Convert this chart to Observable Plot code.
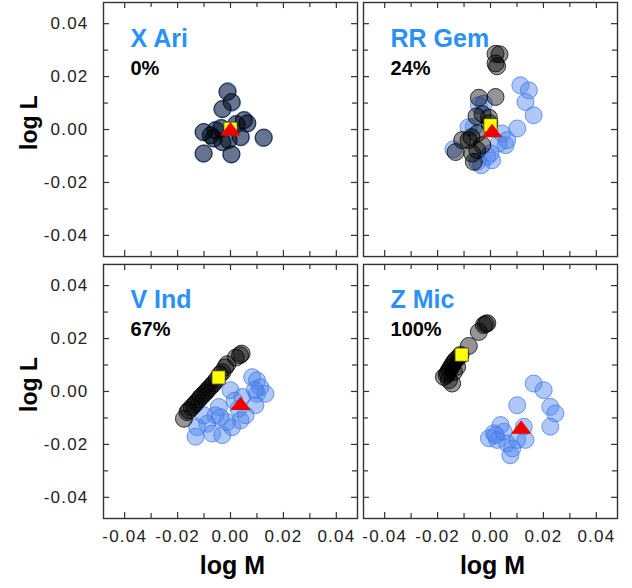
<!DOCTYPE html>
<html><head><meta charset="utf-8">
<script src="https://cdn.jsdelivr.net/npm/d3@7"></script>
<script src="https://cdn.jsdelivr.net/npm/@observablehq/plot@0.6"></script>
<style>
html,body{margin:0;padding:0;background:#fff;}
g[aria-label="x-axis tick label"], g[aria-label="y-axis tick label"]{letter-spacing:1.2px;}
</style></head><body><div id="chart"></div>
<script>
// ---- categories / labels ----
const panelNames = ["X Ari", "RR Gem", "V Ind", "Z Mic"];
const percents = ["0%", "24%", "67%", "100%"];
const panelCol = ["L", "R", "L", "R"];
const panelRow = ["T", "T", "B", "B"];
const colKeys = ["L", "R"];
const rowKeys = ["T", "B"];
const xLabel = "log M";
const yLabel = "log L";
const majorTicks = [-0.04, -0.02, 0, 0.02, 0.04];
const minorTicks = [-0.03, -0.01, 0.01, 0.03];

// ---- X Ari ----
const xAriBlackM = [-0.0012, 0.0004, -0.0031, 0.0050, 0.0064, -0.0101, -0.0075, -0.0057, -0.0034, 0.0038, 0.0126, -0.0101, 0.0004, -0.0008, -0.0064, -0.0030, 0.0023];
const xAriBlackL = [0.0142, 0.0104, 0.0077, 0.0035, 0.0024, -0.0009, -0.0022, -0.0003, 0.0005, -0.0028, -0.0030, -0.0090, -0.0093, -0.0040, -0.0033, -0.0048, 0.0020];
const xAriBlueM = [-0.0010, 0.0006, -0.0028, 0.0053, 0.0062, -0.0103, -0.0072, -0.0055, -0.0036, 0.0040, 0.0124, -0.0103, 0.0002, -0.0006, -0.0062, -0.0033, 0.0020];
const xAriBlueL = [0.0146, 0.0101, 0.0079, 0.0037, 0.0021, -0.0011, -0.0020, -0.0001, 0.0007, -0.0030, -0.0033, -0.0092, -0.0095, -0.0038, -0.0035, -0.0046, 0.0022];

// ---- RR Gem ----
const rrGemBlackM = [0.0019, 0.0034, 0.0025, 0.0019, -0.0044, 0.0019, -0.0053, -0.0030, -0.0006, -0.0004, -0.0050, -0.0072, -0.0107, -0.0083, -0.0031, -0.0132, -0.0069, -0.0050, -0.0063];
const rrGemBlackL = [0.0286, 0.0284, 0.0239, 0.0250, 0.0120, 0.0123, 0.0050, 0.0058, 0.0045, 0.0024, -0.0015, -0.0029, -0.0040, -0.0040, -0.0059, -0.0085, -0.0091, -0.0078, -0.0122];
const rrGemBlueM = [0.0113, 0.0145, 0.0132, 0.0163, 0.0101, 0.0057, 0.0031, 0.0044, -0.0044, -0.0063, -0.0012, 0.0006, -0.0035, 0.0000, -0.0050, -0.0083, -0.0140, 0.0063, -0.0025];
const rrGemBlueL = [0.0167, 0.0148, 0.0104, 0.0054, 0.0004, -0.0059, -0.0053, -0.0015, 0.0092, 0.0010, -0.0103, -0.0116, -0.0135, -0.0090, -0.0122, 0.0009, -0.0075, -0.0040, 0.0098];

// ---- V Ind ----
const vIndBlackM = [0.0042, 0.0036, 0.0020, -0.0012, -0.0020, -0.0031, -0.0040, -0.0052, -0.0063, -0.0070, -0.0080, -0.0088, -0.0095, -0.0104, -0.0113, -0.0120, -0.0130, -0.0138, -0.0146, -0.0157, -0.0163, -0.0176];
const vIndBlackL = [0.0143, 0.0137, 0.0128, 0.0103, 0.0091, 0.0073, 0.0064, 0.0046, 0.0031, 0.0023, 0.0013, 0.0004, -0.0004, -0.0013, -0.0021, -0.0031, -0.0042, -0.0051, -0.0060, -0.0071, -0.0078, -0.0103];
const vIndBlueM = [0.0082, 0.0100, 0.0113, 0.0100, 0.0132, 0.0094, 0.0000, 0.0044, -0.0044, -0.0057, -0.0088, -0.0126, -0.0132, -0.0069, -0.0031, 0.0006, 0.0038, 0.0057, 0.0031, -0.0013, -0.0101, -0.0038, 0.0092, 0.0015];
const vIndBlueL = [0.0054, 0.0042, 0.0016, -0.0009, -0.0009, -0.0052, 0.0005, -0.0021, -0.0059, -0.0090, -0.0122, -0.0135, -0.0171, -0.0159, -0.0165, -0.0135, -0.0109, -0.0090, -0.0065, -0.0116, -0.0090, -0.0097, 0.0006, -0.0035];

// ---- Z Mic ----
const zMicBlackM = [-0.0012, -0.0018, -0.0025, -0.0044, -0.0082, -0.0113, -0.0122, -0.0132, -0.0140, -0.0145, -0.0151, -0.0157, -0.0162, -0.0166, -0.0176, -0.0157, -0.0145, -0.0138, -0.0126];
const zMicBlackL = [0.0258, 0.0255, 0.0251, 0.0225, 0.0172, 0.0138, 0.0128, 0.0119, 0.0108, 0.0099, 0.0090, 0.0080, 0.0070, 0.0062, 0.0055, 0.0043, 0.0030, 0.0074, 0.0093];
const zMicBlueM = [0.0163, 0.0201, 0.0101, 0.0226, 0.0245, 0.0226, 0.0126, 0.0012, 0.0025, 0.0063, 0.0101, 0.0132, 0.0082, 0.0075, 0.0050, -0.0006, 0.0038, 0.0020];
const zMicBlueL = [0.0030, 0.0005, -0.0052, -0.0058, -0.0083, -0.0133, -0.0133, -0.0158, -0.0183, -0.0196, -0.0183, -0.0183, -0.0215, -0.0241, -0.0152, -0.0177, -0.0127, -0.0165];

// ---- summary markers (one per panel) ----
const squareM = [0.0000, 0.0000, -0.0045, -0.0109];
const squareL = [0.0003, 0.0016, 0.0053, 0.0139];
const triangleM = [0.0000, 0.0006, 0.0038, 0.0116];
const triangleL = [0.0003, -0.0004, -0.0045, -0.0134];

// ---- build tables ----
const blackSets = [[xAriBlackM, xAriBlackL], [rrGemBlackM, rrGemBlackL], [vIndBlackM, vIndBlackL], [zMicBlackM, zMicBlackL]];
const blueSets = [[xAriBlueM, xAriBlueL], [rrGemBlueM, rrGemBlueL], [vIndBlueM, vIndBlueL], [zMicBlueM, zMicBlueL]];
const toRows = sets => sets.flatMap(([ms, ls], p) => ms.map((m, i) => ({m, l: ls[i], col: panelCol[p], row: panelRow[p]})));
const blackRows = toRows(blackSets);
const blueRows = toRows(blueSets);
const panelRows = panelNames.map((name, p) => ({
  name, pct: percents[p], col: panelCol[p], row: panelRow[p],
  sm: squareM[p], sl: squareL[p], tm: triangleM[p], tl: triangleL[p]
}));

const fmt = d => d.toFixed(2);
const flatTriangle = {
  draw(ctx, size) {
    const r = Math.sqrt(size / Math.PI);
    const w = r * 1.46, h = r * 0.96;
    ctx.moveTo(0, -h); ctx.lineTo(w, h); ctx.lineTo(-w, h); ctx.closePath();
  }
};
const titleBlue = "#2a92f7";
const tickColor = "#333";

const chart = Plot.plot({
  width: 632, height: 588,
  marginLeft: 103, marginRight: 15, marginTop: 2, marginBottom: 70,
  style: {fontFamily: "'Liberation Sans', Arial, Helvetica, sans-serif", fontSize: "16px", color: "#222", background: "#fff"},
  fx: {domain: colKeys, paddingInner: 0.0231, paddingOuter: 0, round: false, axis: null, label: null},
  fy: {domain: rowKeys, paddingInner: 0.03, paddingOuter: 0, round: false, axis: null, label: null},
  x: {domain: [-0.048, 0.048], nice: false, label: null},
  y: {domain: [-0.048, 0.048], nice: false, label: null},
  marks: [
    Plot.frame({stroke: tickColor, strokeWidth: 1.4}),
    // inward ticks on all four sides of every panel
    Plot.tickX(majorTicks, {x: d => d, insetTop: 248, stroke: tickColor, strokeWidth: 1.2}),
    Plot.tickX(majorTicks, {x: d => d, insetBottom: 248, stroke: tickColor, strokeWidth: 1.2}),
    Plot.tickX(minorTicks, {x: d => d, insetTop: 249, stroke: tickColor, strokeWidth: 1.2}),
    Plot.tickX(minorTicks, {x: d => d, insetBottom: 249, stroke: tickColor, strokeWidth: 1.2}),
    Plot.tickY(majorTicks, {y: d => d, insetRight: 248, stroke: tickColor, strokeWidth: 1.2}),
    Plot.tickY(majorTicks, {y: d => d, insetLeft: 248, stroke: tickColor, strokeWidth: 1.2}),
    Plot.tickY(minorTicks, {y: d => d, insetRight: 249, stroke: tickColor, strokeWidth: 1.2}),
    Plot.tickY(minorTicks, {y: d => d, insetLeft: 249, stroke: tickColor, strokeWidth: 1.2}),
    Plot.axisX({ticks: majorTicks, tickFormat: fmt, tickSize: 0, tickPadding: 11, anchor: "bottom", facetAnchor: "bottom", label: null, fontSize: 17, fill: "#222"}),
    Plot.axisY({ticks: majorTicks, tickFormat: fmt, tickSize: 0, tickPadding: 15, anchor: "left", facetAnchor: "left", label: null, fontSize: 17, fill: "#222"}),
    // points
    Plot.dot(blueRows, {x: "m", y: "l", fx: "col", fy: "row", r: 8.5, fill: "#4f85ec", fillOpacity: 0.45, stroke: "#3b73ea", strokeOpacity: 0.7, strokeWidth: 1}),
    Plot.dot(blackRows, {x: "m", y: "l", fx: "col", fy: "row", r: 8.5, fill: "#000", fillOpacity: 0.42, stroke: "#000", strokeOpacity: 0.75, strokeWidth: 1}),
    Plot.dot(panelRows, {x: "sm", y: "sl", fx: "col", fy: "row", symbol: "square", r: 7.5, fill: "#ffff00", stroke: "#333", strokeWidth: 0.8}),
    Plot.dot(panelRows, {x: "tm", y: "tl", fx: "col", fy: "row", symbol: flatTriangle, r: 7, fill: "#f00000"}),
    // panel titles
    Plot.text(panelRows, {fx: "col", fy: "row", text: "name", frameAnchor: "top-left", textAnchor: "start", lineAnchor: "bottom", dx: 27, dy: 44, fontSize: 25, fontWeight: "bold", fill: titleBlue}),
    Plot.text(panelRows, {fx: "col", fy: "row", text: "pct", frameAnchor: "top-left", textAnchor: "start", lineAnchor: "bottom", dx: 27, dy: 72, fontSize: 20, fontWeight: "bold", fill: "#000"}),
    // axis titles
    Plot.text(rowKeys, {fx: () => colKeys[0], fy: d => d, text: () => yLabel, frameAnchor: "left", rotate: -90, textAnchor: "middle", lineAnchor: "bottom", dx: -67, dy: -7, fontSize: 23, fontWeight: "bold", fill: "#000"}),
    Plot.text(colKeys, {fx: d => d, fy: () => rowKeys[1], text: () => xLabel, frameAnchor: "bottom", textAnchor: "middle", lineAnchor: "bottom", dx: 2, dy: 55, fontSize: 25, fontWeight: "bold", fill: "#000"})
  ]
});
document.getElementById("chart").appendChild(chart);
</script></body></html>
